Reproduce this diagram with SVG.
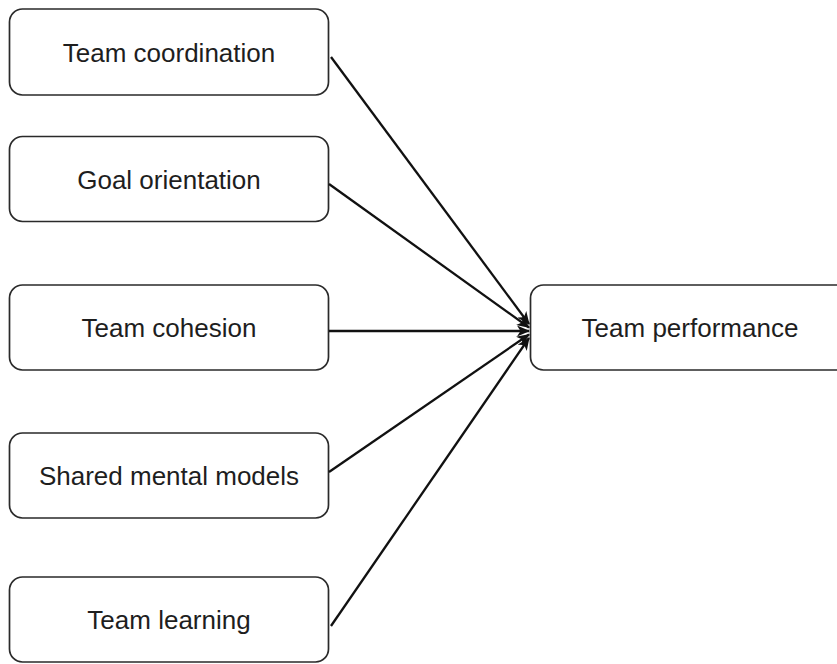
<svg xmlns="http://www.w3.org/2000/svg" width="837" height="664" viewBox="0 0 837 664">
  <defs>
    <style>
      .box { fill: #ffffff; stroke: #2a2a2a; stroke-width: 1.7; }
      .label { font-family: "Liberation Sans", Arial, Helvetica, sans-serif; font-size: 26px; fill: #1e1e1e; text-anchor: middle; }
      .edge { fill: none; stroke: #111111; stroke-width: 2.3; }
    </style>
    <marker id="arrow" viewBox="0 0 13 11" refX="12" refY="5.5" markerWidth="13" markerHeight="11" markerUnits="userSpaceOnUse" orient="auto">
      <path d="M0,0 L13,5.5 L0,11 L3.5,5.5 Z" fill="#111111"/>
    </marker>
  </defs>

  <rect width="837" height="664" fill="#ffffff"/>

  <g id="team-coordination">
    <rect class="box" x="9.5" y="9" width="319" height="86" rx="13"/>
    <text class="label" x="169" y="62">Team coordination</text>
  </g>

  <g id="goal-orientation">
    <rect class="box" x="9.5" y="136.5" width="319" height="85" rx="13"/>
    <text class="label" x="169" y="189">Goal orientation</text>
  </g>

  <g id="team-cohesion">
    <rect class="box" x="9.5" y="285" width="319" height="85" rx="13"/>
    <text class="label" x="169" y="337">Team cohesion</text>
  </g>

  <g id="shared-mental-models">
    <rect class="box" x="9.5" y="433" width="319" height="85" rx="13"/>
    <text class="label" x="169" y="485">Shared mental models</text>
  </g>

  <g id="team-learning">
    <rect class="box" x="9.5" y="577" width="319" height="85" rx="13"/>
    <text class="label" x="169" y="629">Team learning</text>
  </g>

  <g id="team-performance">
    <rect class="box" x="530.5" y="285" width="319" height="85" rx="13"/>
    <text class="label" x="690" y="337">Team performance</text>
  </g>

  <g id="connectors">
    <path class="edge" marker-end="url(#arrow)" d="M331,57 L529,324"/>
    <path class="edge" marker-end="url(#arrow)" d="M329,184 L529,327.5"/>
    <path class="edge" marker-end="url(#arrow)" d="M329,331 L529,331"/>
    <path class="edge" marker-end="url(#arrow)" d="M329,472 L529,334.5"/>
    <path class="edge" marker-end="url(#arrow)" d="M331,626 L529,338"/>
  </g>
</svg>
